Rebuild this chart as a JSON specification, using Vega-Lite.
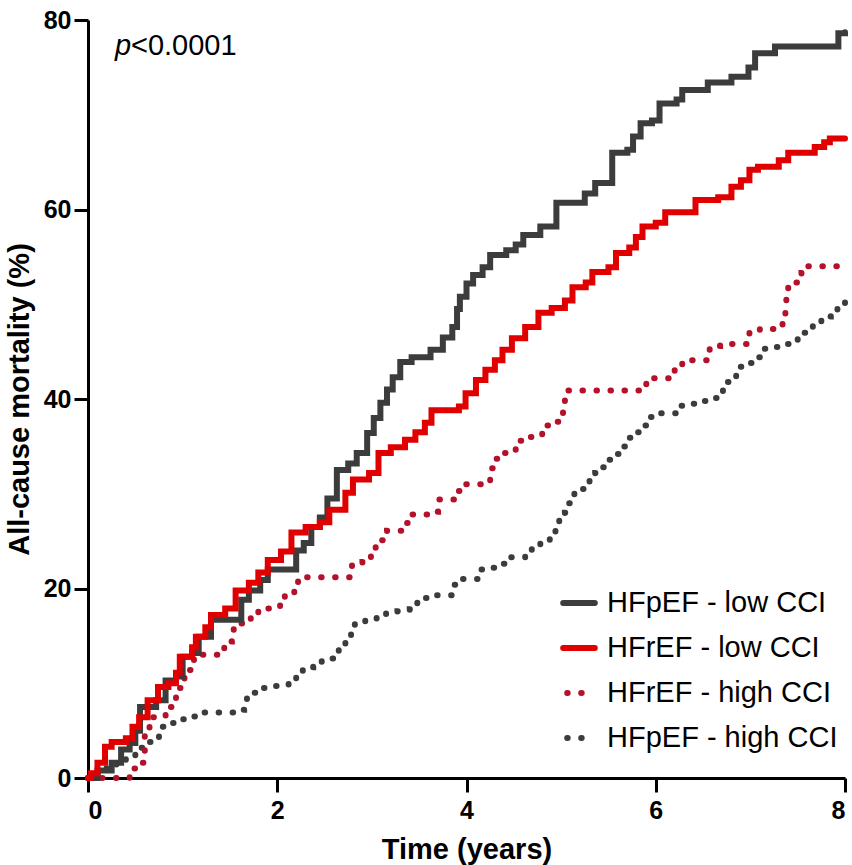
{
  "$schema": "https://vega.github.io/schema/vega-lite/v6.json",
  "autosize": {"type": "none"},
  "width": 757,
  "height": 758,
  "padding": {"left": 88, "top": 20, "right": 7, "bottom": 87},
  "background": "white",
  "config": {
    "view": {"stroke": null},
    "font": "Liberation Sans",
    "axis": {
      "grid": false,
      "domainColor": "black",
      "domainWidth": 3,
      "tickColor": "black",
      "tickWidth": 3,
      "tickSize": 14,
      "labelFont": "Liberation Sans",
      "labelFontSize": 25,
      "labelFontWeight": "bold",
      "labelColor": "black",
      "titleFont": "Liberation Sans",
      "titleFontSize": 29,
      "titleFontWeight": "bold",
      "titleColor": "black"
    },
    "legend": {
      "symbolType": "stroke",
      "symbolSize": 1000,
      "symbolStrokeWidth": 6,
      "labelFontSize": 29,
      "labelFont": "Liberation Sans",
      "labelColor": "black",
      "labelOffset": 9,
      "labelLimit": 400,
      "rowPadding": 11
    }
  },
  "datasets": {
    "curves": [
      {"g":"HFpEF - high CCI","t":0,"m":0},{"g":"HFpEF - high CCI","t":0.1,"m":0.5},{"g":"HFpEF - high CCI","t":0.2,"m":1},{"g":"HFpEF - high CCI","t":0.3,"m":1.6},{"g":"HFpEF - high CCI","t":0.4,"m":2.2},{"g":"HFpEF - high CCI","t":0.5,"m":3.2},{"g":"HFpEF - high CCI","t":0.6,"m":3.8},{"g":"HFpEF - high CCI","t":0.7,"m":4.3},{"g":"HFpEF - high CCI","t":0.75,"m":5.4},{"g":"HFpEF - high CCI","t":0.85,"m":5.8},{"g":"HFpEF - high CCI","t":0.95,"m":6.2},{"g":"HFpEF - high CCI","t":1.05,"m":6.5},{"g":"HFpEF - high CCI","t":1.15,"m":6.9},{"g":"HFpEF - high CCI","t":1.55,"m":7.2},{"g":"HFpEF - high CCI","t":1.65,"m":7.8},{"g":"HFpEF - high CCI","t":1.68,"m":9},{"g":"HFpEF - high CCI","t":1.78,"m":9.5},{"g":"HFpEF - high CCI","t":1.88,"m":9.7},{"g":"HFpEF - high CCI","t":2.02,"m":9.8},{"g":"HFpEF - high CCI","t":2.12,"m":10.4},{"g":"HFpEF - high CCI","t":2.2,"m":11},{"g":"HFpEF - high CCI","t":2.27,"m":11.7},{"g":"HFpEF - high CCI","t":2.38,"m":12.1},{"g":"HFpEF - high CCI","t":2.47,"m":12.6},{"g":"HFpEF - high CCI","t":2.65,"m":13.7},{"g":"HFpEF - high CCI","t":2.72,"m":14.4},{"g":"HFpEF - high CCI","t":2.78,"m":15.3},{"g":"HFpEF - high CCI","t":2.82,"m":16.4},{"g":"HFpEF - high CCI","t":2.93,"m":16.7},{"g":"HFpEF - high CCI","t":3.05,"m":17},{"g":"HFpEF - high CCI","t":3.15,"m":17.4},{"g":"HFpEF - high CCI","t":3.27,"m":17.6},{"g":"HFpEF - high CCI","t":3.4,"m":17.8},{"g":"HFpEF - high CCI","t":3.48,"m":18.5},{"g":"HFpEF - high CCI","t":3.56,"m":19},{"g":"HFpEF - high CCI","t":3.68,"m":19.3},{"g":"HFpEF - high CCI","t":3.87,"m":20.4},{"g":"HFpEF - high CCI","t":3.96,"m":21},{"g":"HFpEF - high CCI","t":4.14,"m":22},{"g":"HFpEF - high CCI","t":4.26,"m":22.2},{"g":"HFpEF - high CCI","t":4.37,"m":22.6},{"g":"HFpEF - high CCI","t":4.45,"m":23.3},{"g":"HFpEF - high CCI","t":4.62,"m":23.6},{"g":"HFpEF - high CCI","t":4.69,"m":24.4},{"g":"HFpEF - high CCI","t":4.78,"m":24.9},{"g":"HFpEF - high CCI","t":4.88,"m":25.3},{"g":"HFpEF - high CCI","t":4.94,"m":26.3},{"g":"HFpEF - high CCI","t":4.98,"m":27.3},{"g":"HFpEF - high CCI","t":5.04,"m":28},{"g":"HFpEF - high CCI","t":5.08,"m":29},{"g":"HFpEF - high CCI","t":5.14,"m":30},{"g":"HFpEF - high CCI","t":5.2,"m":30.5},{"g":"HFpEF - high CCI","t":5.26,"m":31},{"g":"HFpEF - high CCI","t":5.3,"m":31.6},{"g":"HFpEF - high CCI","t":5.36,"m":32.2},{"g":"HFpEF - high CCI","t":5.44,"m":32.8},{"g":"HFpEF - high CCI","t":5.51,"m":33.6},{"g":"HFpEF - high CCI","t":5.58,"m":34.2},{"g":"HFpEF - high CCI","t":5.65,"m":35},{"g":"HFpEF - high CCI","t":5.72,"m":35.9},{"g":"HFpEF - high CCI","t":5.8,"m":36.5},{"g":"HFpEF - high CCI","t":5.87,"m":37.2},{"g":"HFpEF - high CCI","t":5.93,"m":38.1},{"g":"HFpEF - high CCI","t":6.03,"m":38.5},{"g":"HFpEF - high CCI","t":6.24,"m":39.3},{"g":"HFpEF - high CCI","t":6.36,"m":39.5},{"g":"HFpEF - high CCI","t":6.47,"m":39.8},{"g":"HFpEF - high CCI","t":6.6,"m":40.1},{"g":"HFpEF - high CCI","t":6.66,"m":40.8},{"g":"HFpEF - high CCI","t":6.71,"m":41.8},{"g":"HFpEF - high CCI","t":6.8,"m":42.4},{"g":"HFpEF - high CCI","t":6.85,"m":43.4},{"g":"HFpEF - high CCI","t":6.95,"m":43.8},{"g":"HFpEF - high CCI","t":7.02,"m":44.4},{"g":"HFpEF - high CCI","t":7.1,"m":45.3},{"g":"HFpEF - high CCI","t":7.22,"m":45.5},{"g":"HFpEF - high CCI","t":7.33,"m":45.8},{"g":"HFpEF - high CCI","t":7.44,"m":46.1},{"g":"HFpEF - high CCI","t":7.5,"m":47},{"g":"HFpEF - high CCI","t":7.58,"m":47.5},{"g":"HFpEF - high CCI","t":7.66,"m":48},{"g":"HFpEF - high CCI","t":7.75,"m":48.7},{"g":"HFpEF - high CCI","t":7.85,"m":49.1},{"g":"HFpEF - high CCI","t":7.92,"m":50},{"g":"HFpEF - high CCI","t":8.0,"m":50.2},

      {"g":"HFrEF - high CCI","t":0,"m":0},{"g":"HFrEF - high CCI","t":0.44,"m":1},{"g":"HFrEF - high CCI","t":0.55,"m":1.6},{"g":"HFrEF - high CCI","t":0.6,"m":5.3},{"g":"HFrEF - high CCI","t":0.65,"m":6.4},{"g":"HFrEF - high CCI","t":0.82,"m":7.5},{"g":"HFrEF - high CCI","t":0.9,"m":8},{"g":"HFrEF - high CCI","t":0.93,"m":9.5},{"g":"HFrEF - high CCI","t":0.98,"m":10.1},{"g":"HFrEF - high CCI","t":1.02,"m":11.4},{"g":"HFrEF - high CCI","t":1.12,"m":13},{"g":"HFrEF - high CCI","t":1.44,"m":14.4},{"g":"HFrEF - high CCI","t":1.52,"m":14.9},{"g":"HFrEF - high CCI","t":1.54,"m":16.3},{"g":"HFrEF - high CCI","t":1.72,"m":17.2},{"g":"HFrEF - high CCI","t":1.8,"m":17.9},{"g":"HFrEF - high CCI","t":2.03,"m":18.5},{"g":"HFrEF - high CCI","t":2.08,"m":19.5},{"g":"HFrEF - high CCI","t":2.18,"m":20.1},{"g":"HFrEF - high CCI","t":2.22,"m":21.2},{"g":"HFrEF - high CCI","t":2.79,"m":22.5},{"g":"HFrEF - high CCI","t":2.9,"m":22.8},{"g":"HFrEF - high CCI","t":2.99,"m":23.4},{"g":"HFrEF - high CCI","t":3.04,"m":24.4},{"g":"HFrEF - high CCI","t":3.1,"m":25.1},{"g":"HFrEF - high CCI","t":3.16,"m":26.1},{"g":"HFrEF - high CCI","t":3.36,"m":26.9},{"g":"HFrEF - high CCI","t":3.43,"m":27.8},{"g":"HFrEF - high CCI","t":3.67,"m":28.1},{"g":"HFrEF - high CCI","t":3.7,"m":29.4},{"g":"HFrEF - high CCI","t":3.89,"m":30.3},{"g":"HFrEF - high CCI","t":3.97,"m":31},{"g":"HFrEF - high CCI","t":4.2,"m":31.4},{"g":"HFrEF - high CCI","t":4.25,"m":32.7},{"g":"HFrEF - high CCI","t":4.28,"m":33.7},{"g":"HFrEF - high CCI","t":4.36,"m":34.3},{"g":"HFrEF - high CCI","t":4.52,"m":35.6},{"g":"HFrEF - high CCI","t":4.64,"m":36},{"g":"HFrEF - high CCI","t":4.8,"m":37.2},{"g":"HFrEF - high CCI","t":4.9,"m":37.6},{"g":"HFrEF - high CCI","t":4.97,"m":38.5},{"g":"HFrEF - high CCI","t":5.02,"m":39.3},{"g":"HFrEF - high CCI","t":5.04,"m":40.9},{"g":"HFrEF - high CCI","t":5.9,"m":42.2},{"g":"HFrEF - high CCI","t":6.2,"m":43.4},{"g":"HFrEF - high CCI","t":6.28,"m":44.1},{"g":"HFrEF - high CCI","t":6.57,"m":45.6},{"g":"HFrEF - high CCI","t":6.68,"m":45.8},{"g":"HFrEF - high CCI","t":6.99,"m":47.2},{"g":"HFrEF - high CCI","t":7.1,"m":47.4},{"g":"HFrEF - high CCI","t":7.34,"m":48},{"g":"HFrEF - high CCI","t":7.37,"m":49.2},{"g":"HFrEF - high CCI","t":7.38,"m":50.6},{"g":"HFrEF - high CCI","t":7.4,"m":51.8},{"g":"HFrEF - high CCI","t":7.48,"m":52.3},{"g":"HFrEF - high CCI","t":7.54,"m":53.3},{"g":"HFrEF - high CCI","t":7.6,"m":54},{"g":"HFrEF - high CCI","t":8.0,"m":54},

      {"g":"HFpEF - low CCI","t":0,"m":0},{"g":"HFpEF - low CCI","t":0.1,"m":0.8},{"g":"HFpEF - low CCI","t":0.25,"m":1.6},{"g":"HFpEF - low CCI","t":0.35,"m":3},{"g":"HFpEF - low CCI","t":0.44,"m":3.7},{"g":"HFpEF - low CCI","t":0.5,"m":5},{"g":"HFpEF - low CCI","t":0.55,"m":7.5},{"g":"HFpEF - low CCI","t":0.72,"m":8.2},{"g":"HFpEF - low CCI","t":0.82,"m":10.3},{"g":"HFpEF - low CCI","t":0.93,"m":10.7},{"g":"HFpEF - low CCI","t":1.0,"m":12.8},{"g":"HFpEF - low CCI","t":1.1,"m":13.2},{"g":"HFpEF - low CCI","t":1.17,"m":14.9},{"g":"HFpEF - low CCI","t":1.3,"m":16.7},{"g":"HFpEF - low CCI","t":1.62,"m":18.8},{"g":"HFpEF - low CCI","t":1.7,"m":19.8},{"g":"HFpEF - low CCI","t":1.82,"m":20.9},{"g":"HFpEF - low CCI","t":1.9,"m":22},{"g":"HFpEF - low CCI","t":2.2,"m":24},{"g":"HFpEF - low CCI","t":2.28,"m":24.8},{"g":"HFpEF - low CCI","t":2.36,"m":26.5},{"g":"HFpEF - low CCI","t":2.45,"m":27.5},{"g":"HFpEF - low CCI","t":2.53,"m":29.5},{"g":"HFpEF - low CCI","t":2.63,"m":32.5},{"g":"HFpEF - low CCI","t":2.75,"m":33.2},{"g":"HFpEF - low CCI","t":2.84,"m":34.3},{"g":"HFpEF - low CCI","t":2.95,"m":36.4},{"g":"HFpEF - low CCI","t":3.02,"m":38},{"g":"HFpEF - low CCI","t":3.09,"m":39.6},{"g":"HFpEF - low CCI","t":3.16,"m":41},{"g":"HFpEF - low CCI","t":3.22,"m":42.3},{"g":"HFpEF - low CCI","t":3.3,"m":43.9},{"g":"HFpEF - low CCI","t":3.42,"m":44.4},{"g":"HFpEF - low CCI","t":3.62,"m":45.2},{"g":"HFpEF - low CCI","t":3.75,"m":46.5},{"g":"HFpEF - low CCI","t":3.85,"m":47.6},{"g":"HFpEF - low CCI","t":3.9,"m":49.5},{"g":"HFpEF - low CCI","t":3.93,"m":50.8},{"g":"HFpEF - low CCI","t":4.0,"m":52.2},{"g":"HFpEF - low CCI","t":4.07,"m":53.1},{"g":"HFpEF - low CCI","t":4.17,"m":53.9},{"g":"HFpEF - low CCI","t":4.25,"m":55.2},{"g":"HFpEF - low CCI","t":4.42,"m":55.7},{"g":"HFpEF - low CCI","t":4.52,"m":56.3},{"g":"HFpEF - low CCI","t":4.6,"m":57.3},{"g":"HFpEF - low CCI","t":4.78,"m":58.2},{"g":"HFpEF - low CCI","t":4.95,"m":60.7},{"g":"HFpEF - low CCI","t":5.25,"m":61.7},{"g":"HFpEF - low CCI","t":5.36,"m":62.8},{"g":"HFpEF - low CCI","t":5.54,"m":66},{"g":"HFpEF - low CCI","t":5.7,"m":66.3},{"g":"HFpEF - low CCI","t":5.76,"m":67.7},{"g":"HFpEF - low CCI","t":5.84,"m":69.1},{"g":"HFpEF - low CCI","t":5.96,"m":69.4},{"g":"HFpEF - low CCI","t":6.04,"m":71.2},{"g":"HFpEF - low CCI","t":6.22,"m":71.6},{"g":"HFpEF - low CCI","t":6.28,"m":72.6},{"g":"HFpEF - low CCI","t":6.55,"m":73.4},{"g":"HFpEF - low CCI","t":6.8,"m":74},{"g":"HFpEF - low CCI","t":6.98,"m":75},{"g":"HFpEF - low CCI","t":7.05,"m":76.5},{"g":"HFpEF - low CCI","t":7.26,"m":77.2},{"g":"HFpEF - low CCI","t":7.93,"m":78.6},{"g":"HFpEF - low CCI","t":8.0,"m":78.7},

      {"g":"HFrEF - low CCI","t":0,"m":0},{"g":"HFrEF - low CCI","t":0.03,"m":0.5},{"g":"HFrEF - low CCI","t":0.1,"m":1.6},{"g":"HFrEF - low CCI","t":0.18,"m":3.3},{"g":"HFrEF - low CCI","t":0.25,"m":3.8},{"g":"HFrEF - low CCI","t":0.4,"m":4.2},{"g":"HFrEF - low CCI","t":0.47,"m":5.4},{"g":"HFrEF - low CCI","t":0.54,"m":6.4},{"g":"HFrEF - low CCI","t":0.63,"m":8.2},{"g":"HFrEF - low CCI","t":0.74,"m":9.6},{"g":"HFrEF - low CCI","t":0.85,"m":10},{"g":"HFrEF - low CCI","t":0.93,"m":11.1},{"g":"HFrEF - low CCI","t":0.97,"m":12.8},{"g":"HFrEF - low CCI","t":1.1,"m":13.8},{"g":"HFrEF - low CCI","t":1.14,"m":14.9},{"g":"HFrEF - low CCI","t":1.24,"m":15.9},{"g":"HFrEF - low CCI","t":1.3,"m":17.2},{"g":"HFrEF - low CCI","t":1.45,"m":17.9},{"g":"HFrEF - low CCI","t":1.56,"m":19.8},{"g":"HFrEF - low CCI","t":1.7,"m":20.6},{"g":"HFrEF - low CCI","t":1.8,"m":21.7},{"g":"HFrEF - low CCI","t":1.9,"m":23},{"g":"HFrEF - low CCI","t":2.04,"m":23.9},{"g":"HFrEF - low CCI","t":2.15,"m":25.9},{"g":"HFrEF - low CCI","t":2.3,"m":26.5},{"g":"HFrEF - low CCI","t":2.45,"m":27},{"g":"HFrEF - low CCI","t":2.55,"m":28.3},{"g":"HFrEF - low CCI","t":2.72,"m":30.1},{"g":"HFrEF - low CCI","t":2.8,"m":31.5},{"g":"HFrEF - low CCI","t":2.97,"m":32.2},{"g":"HFrEF - low CCI","t":3.07,"m":34.3},{"g":"HFrEF - low CCI","t":3.2,"m":34.9},{"g":"HFrEF - low CCI","t":3.35,"m":35.7},{"g":"HFrEF - low CCI","t":3.46,"m":36.5},{"g":"HFrEF - low CCI","t":3.56,"m":37.5},{"g":"HFrEF - low CCI","t":3.63,"m":38.8},{"g":"HFrEF - low CCI","t":3.92,"m":39.2},{"g":"HFrEF - low CCI","t":3.99,"m":40.6},{"g":"HFrEF - low CCI","t":4.1,"m":42},{"g":"HFrEF - low CCI","t":4.2,"m":43.1},{"g":"HFrEF - low CCI","t":4.3,"m":44.1},{"g":"HFrEF - low CCI","t":4.38,"m":45.2},{"g":"HFrEF - low CCI","t":4.48,"m":46.4},{"g":"HFrEF - low CCI","t":4.62,"m":47.6},{"g":"HFrEF - low CCI","t":4.76,"m":49.1},{"g":"HFrEF - low CCI","t":4.9,"m":49.6},{"g":"HFrEF - low CCI","t":5.04,"m":50.4},{"g":"HFrEF - low CCI","t":5.12,"m":51.8},{"g":"HFrEF - low CCI","t":5.26,"m":52.3},{"g":"HFrEF - low CCI","t":5.33,"m":53.4},{"g":"HFrEF - low CCI","t":5.5,"m":53.9},{"g":"HFrEF - low CCI","t":5.58,"m":55.4},{"g":"HFrEF - low CCI","t":5.72,"m":56},{"g":"HFrEF - low CCI","t":5.79,"m":57.1},{"g":"HFrEF - low CCI","t":5.86,"m":58.2},{"g":"HFrEF - low CCI","t":6.0,"m":58.6},{"g":"HFrEF - low CCI","t":6.1,"m":59.7},{"g":"HFrEF - low CCI","t":6.42,"m":61},{"g":"HFrEF - low CCI","t":6.66,"m":61.3},{"g":"HFrEF - low CCI","t":6.8,"m":62.4},{"g":"HFrEF - low CCI","t":6.9,"m":63.1},{"g":"HFrEF - low CCI","t":6.99,"m":64.2},{"g":"HFrEF - low CCI","t":7.08,"m":64.5},{"g":"HFrEF - low CCI","t":7.3,"m":65.2},{"g":"HFrEF - low CCI","t":7.4,"m":66},{"g":"HFrEF - low CCI","t":7.68,"m":66.6},{"g":"HFrEF - low CCI","t":7.78,"m":67.1},{"g":"HFrEF - low CCI","t":7.84,"m":67.5},{"g":"HFrEF - low CCI","t":8.0,"m":67.5}
    ],
    "note": [
      {"t": 0.285, "m": 76.3, "label": "p", "part": "italic"},
      {"t": 0.285, "m": 76.3, "label": "<0.0001", "part": "plain"}
    ]
  },
  "layer": [
    {
      "data": {"name": "curves"},
      "mark": {"type": "line", "interpolate": "step-after", "strokeWidth": 6, "strokeCap": "round", "clip": false},
      "encoding": {
        "x": {
          "field": "t", "type": "quantitative",
          "scale": {"domain": [0, 8], "nice": false, "zero": false},
          "axis": {"values": [0, 2, 4, 6, 8], "format": "d", "title": "Time (years)", "titlePadding": 12, "labelPadding": 6}
        },
        "y": {
          "field": "m", "type": "quantitative",
          "scale": {"domain": [0, 80], "nice": false},
          "axis": {"values": [0, 20, 40, 60, 80], "format": "d", "title": "All-cause mortality (%)", "titlePadding": 9, "labelPadding": 3}
        },
        "color": {
          "field": "g", "type": "nominal",
          "scale": {
            "domain": ["HFpEF - low CCI", "HFrEF - low CCI", "HFrEF - high CCI", "HFpEF - high CCI"],
            "range": ["#3c3c3c", "#e00000", "#b4122a", "#3c3c3c"]
          },
          "legend": {
            "title": null,
            "orient": "none",
            "legendX": 472,
            "legendY": 564,
            "encode": {"symbols": {"update": {"strokeCap": {"value": "round"}, "strokeDashOffset": {"value": -4}}}}
          }
        },
        "strokeDash": {
          "field": "g", "type": "nominal",
          "scale": {
            "domain": ["HFpEF - low CCI", "HFrEF - low CCI", "HFrEF - high CCI", "HFpEF - high CCI"],
            "range": [[1, 0], [1, 0], [0.5, 13.5], [0.5, 13.5]]
          },
          "legend": {
            "title": null,
            "orient": "none",
            "legendX": 472,
            "legendY": 564,
            "encode": {"symbols": {"update": {"strokeCap": {"value": "round"}, "strokeDashOffset": {"value": -4}}}}
          }
        }
      }
    },
    {
      "data": {"name": "note"},
      "transform": [{"filter": "datum.part === 'italic'"}],
      "mark": {"type": "text", "align": "left", "baseline": "alphabetic", "fontSize": 29, "fontStyle": "italic", "font": "Liberation Sans", "color": "black"},
      "encoding": {
        "x": {"field": "t", "type": "quantitative"},
        "y": {"field": "m", "type": "quantitative"},
        "text": {"field": "label"}
      }
    },
    {
      "data": {"name": "note"},
      "transform": [{"filter": "datum.part === 'plain'"}],
      "mark": {"type": "text", "align": "left", "baseline": "alphabetic", "fontSize": 29, "dx": 16, "font": "Liberation Sans", "color": "black"},
      "encoding": {
        "x": {"field": "t", "type": "quantitative"},
        "y": {"field": "m", "type": "quantitative"},
        "text": {"field": "label"}
      }
    }
  ]
}
